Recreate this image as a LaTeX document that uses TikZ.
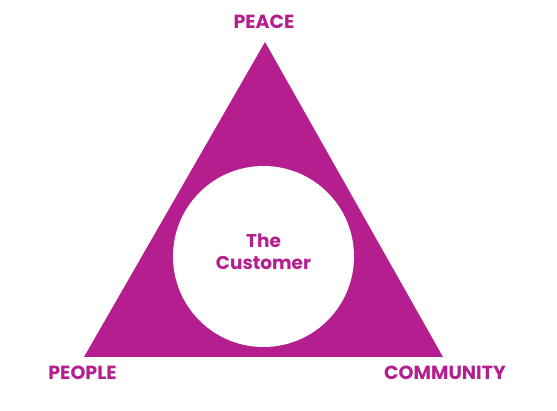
\documentclass[tikz,border=0pt]{standalone}
\usepackage{fontspec}
\setmainfont{Poppins}
\usetikzlibrary{positioning}
\definecolor{magenta}{HTML}{B41E8E}
\tikzset{
  corner/.style={text=magenta,font=\fontsize{19}{22}\selectfont\bfseries,inner sep=0pt},
  hub/.style={circle,fill=white,minimum size=181pt,inner sep=0pt}
}
\begin{document}
\begin{tikzpicture}[x=1pt,y=-1pt]
\useasboundingbox (0,0) rectangle (557,411);
% triangle corners
\coordinate (top) at (265,42);
\coordinate (left) at (84,357);
\coordinate (right) at (443,357);
\fill[magenta] (top) -- (left) -- (right) -- cycle;

% centre circle
\node[hub] (hub) at (263.5,256.5) {};
\node[corner,align=center,font=\fontsize{18.5}{22}\selectfont\bfseries]
  (customer) at (263.5,252) {The\\Customer};

% corner labels
\node[corner] (peace) at (264,21.5) {PEACE};
\node[corner] (people) at (82.5,373) {PEOPLE};
\node[corner] (community) at (445,373) {COMMUNITY};
\end{tikzpicture}
\end{document}
